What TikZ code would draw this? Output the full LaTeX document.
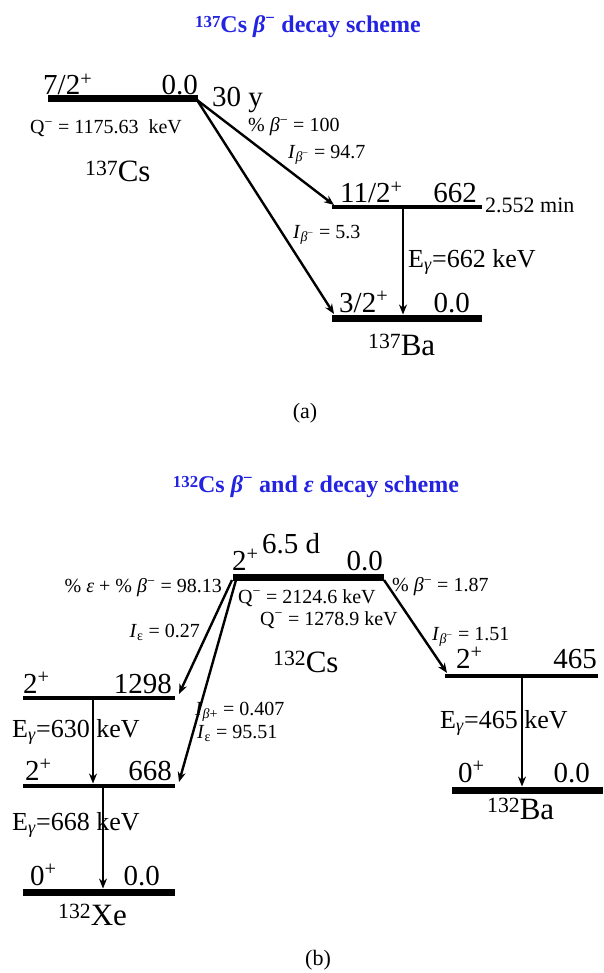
\documentclass[tikz,border=0pt]{standalone}
\usepackage{fontspec}
\setmainfont{Liberation Serif}
\usetikzlibrary{arrows.meta}
\definecolor{ttlblue}{RGB}{35,35,225}

\newcommand{\betam}{\textit{β}\textsuperscript{−}}
\newcommand{\Egam}{E\textsubscript{\textit{γ}}}
\newcommand{\Qm}{Q\textsuperscript{−}}
\newcommand{\massno}[1]{\raisebox{0.22em}{\scalebox{0.7}{#1}}}

\begin{document}
\begin{tikzpicture}
    [x=1pt, y=-1pt,
    lvl/.style={line width=7pt},
    midlvl/.style={line width=4.5pt},
    dec/.style={line width=2.4pt, -{Stealth[length=10pt, width=8pt]}},
    gam/.style={line width=1.5pt, -{Stealth[length=10pt, width=8pt]}},
    big/.style={inner sep=0pt, font=\fontsize{29}{31}\selectfont},
    nuc/.style={inner sep=0pt, font=\fontsize{31}{33}\selectfont},
    egl/.style={inner sep=0pt, font=\fontsize{26}{28}\selectfont},
    med/.style={inner sep=0pt, font=\fontsize{20}{22}\selectfont},
    tiny/.style={inner sep=0pt, font=\fontsize{20}{22}\selectfont},
    ttl/.style={inner sep=0pt, text=ttlblue, font=\bfseries\fontsize{24}{26}\selectfont}]
        \useasboundingbox (0,0) rectangle (603,973);

        % (a) 137Cs
        \node[ttl] (ttlA) at (308,27) {\massno{137}Cs \betam{} decay scheme};
        \coordinate (csL) at (48,99);
        \coordinate (csR) at (198,99);
        \coordinate (hiL) at (332,207);
        \coordinate (hiR) at (482,207);
        \coordinate (gsL) at (332,318);
        \coordinate (gsR) at (482,318);
        \draw[lvl] (csL) -- (csR);
        \draw[midlvl] (hiL) -- (hiR);
        \draw[lvl] (gsL) -- (gsR);

        \node[big, anchor=base west] (csJ) at (43,95) {7/2\textsuperscript{+}};
        \node[big, anchor=base east] (csE) at (198,95) {0.0};
        \node[big, anchor=base west] (csT) at (212,107) {30 y};
        \node[med, anchor=base west] (csQ) at (30,134) {\Qm{} = 1175.63\ \ keV};
        \node[nuc, anchor=base west] (csN) at (85,182) {\massno{137}Cs};
        \node[big, anchor=base west] (hiJ) at (340,203) {11/2\textsuperscript{+}};
        \node[big, anchor=base east] (hiE) at (477,203) {662};
        \node[med, anchor=base west, font=\fontsize{22}{24}\selectfont] (hiT) at (485,213) {2.552 min};
        \node[big, anchor=base west] (gsJ) at (339,312) {3/2\textsuperscript{+}};
        \node[big, anchor=base east] (gsE) at (470,312) {0.0};
        \node[nuc, anchor=base west] (baN) at (368,355) {\massno{137}Ba};

        \coordinate (csOut) at (197,100);
        \coordinate (hiIn) at (334,205);
        \coordinate (gsIn) at (334,314);
        \coordinate (gTop) at (403,209);
        \coordinate (gBot) at (403,314.5);
        \draw[dec] (csOut) -- (hiIn);
        \draw[dec] (csOut) -- (gsIn);
        \draw[gam] (gTop) -- (gBot);
        \node[tiny, anchor=west] (brA) at (248,127) {\% \betam{} = 100};
        \node[tiny, anchor=west] (ibA) at (288,155) {\textit{I}\textsubscript{\betam} = 94.7};
        \node[tiny, anchor=west] (ibB) at (293,235) {\textit{I}\textsubscript{\betam} = 5.3};
        \node[egl, anchor=west] (egA) at (408,262) {\Egam=662 keV};
        \node[med, font=\fontsize{22}{24}\selectfont] (capA) at (305,413) {(a)};

        % (b) 132Cs
        \node[ttl] (ttlB) at (316,487) {\massno{132}Cs \betam{} and \textit{ε} decay scheme};
        \coordinate (c2L) at (233,577);
        \coordinate (c2R) at (384,577);
        \coordinate (x12L) at (23,698);
        \coordinate (x12R) at (175,698);
        \coordinate (x6L) at (23,786);
        \coordinate (x6R) at (175,786);
        \coordinate (x0L) at (23,892);
        \coordinate (x0R) at (175,892);
        \coordinate (b4L) at (445,676);
        \coordinate (b4R) at (598,676);
        \coordinate (b0L) at (452,790);
        \coordinate (b0R) at (603,790);
        \draw[lvl] (c2L) -- (c2R);
        \draw[midlvl] (x12L) -- (x12R);
        \draw[midlvl] (x6L) -- (x6R);
        \draw[lvl] (x0L) -- (x0R);
        \draw[midlvl] (b4L) -- (b4R);
        \draw[lvl] (b0L) -- (b0R);

        \node[big, anchor=base west] (c2J) at (232,570) {2\textsuperscript{+}};
        \node[big, anchor=base west] (c2T) at (262,553) {6.5 d};
        \node[big, anchor=base east] (c2E) at (383,570) {0.0};
        \node[nuc, anchor=base west] (c2N) at (273,672) {\massno{132}Cs};
        \node[med, anchor=west] (c2Qa) at (238,598) {\Qm{} = 2124.6 keV};
        \node[med, anchor=west] (c2Qb) at (260,620) {\Qm{} = 1278.9 keV};
        \node[big, anchor=base west] (x12J) at (23,693) {2\textsuperscript{+}};
        \node[big, anchor=base east] (x12E) at (172,693) {1298};
        \node[big, anchor=base west] (x6J) at (25,780) {2\textsuperscript{+}};
        \node[big, anchor=base east] (x6E) at (172,780) {668};
        \node[big, anchor=base west] (x0J) at (30,885) {0\textsuperscript{+}};
        \node[big, anchor=base east] (x0E) at (160,885) {0.0};
        \node[nuc, anchor=base west] (xeN) at (58,925) {\massno{132}Xe};
        \node[big, anchor=base west] (b4J) at (456,668) {2\textsuperscript{+}};
        \node[big, anchor=base east] (b4E) at (597,668) {465};
        \node[big, anchor=base west] (b0J) at (458,782) {0\textsuperscript{+}};
        \node[big, anchor=base east] (b0E) at (590,782) {0.0};
        \node[nuc, anchor=base west] (b2N) at (487,819) {\massno{132}Ba};

        \coordinate (c2OutA) at (232,580);
        \coordinate (c2OutB) at (236,580);
        \coordinate (c2OutC) at (384,580);
        \coordinate (x12In) at (179,694);
        \coordinate (x6In) at (179,782);
        \coordinate (b4In) at (447,673);
        \draw[dec] (c2OutA) -- (x12In);
        \draw[dec] (c2OutB) -- (x6In);
        \draw[dec] (c2OutC) -- (b4In);
        \coordinate (g630a) at (93,700);
        \coordinate (g630b) at (93,783.5);
        \coordinate (g668a) at (103,788);
        \coordinate (g668b) at (103,888.5);
        \coordinate (g465a) at (522,678);
        \coordinate (g465b) at (522,786.5);
        \draw[gam] (g630a) -- (g630b);
        \draw[gam] (g668a) -- (g668b);
        \draw[gam] (g465a) -- (g465b);

        \node[tiny, anchor=east] (brB) at (222,588) {\% \textit{ε} + \% \betam{} = 98.13};
        \node[tiny, anchor=west] (brC) at (392,587) {\% \betam{} = 1.87};
        \node[tiny, anchor=east] (ieA) at (200,632) {\textit{I}\textsubscript{ε} = 0.27};
        \node[tiny, anchor=west] (ibC) at (432,637) {\textit{I}\textsubscript{\betam} = 1.51};
        \node[tiny, anchor=west] (ipA) at (195,712) {\textit{I}\textsubscript{\textit{β}+} = 0.407};
        \node[tiny, anchor=west] (ieB) at (197,733) {\textit{I}\textsubscript{ε} = 95.51};
        \node[egl, anchor=west] (egB) at (12,732) {\Egam=630 keV};
        \node[egl, anchor=west] (egC) at (12,825) {\Egam=668 keV};
        \node[egl, anchor=west] (egD) at (440,723) {\Egam=465 keV};
        \node[med, font=\fontsize{22}{24}\selectfont] (capB) at (318,960) {(b)};
\end{tikzpicture}
\end{document}
